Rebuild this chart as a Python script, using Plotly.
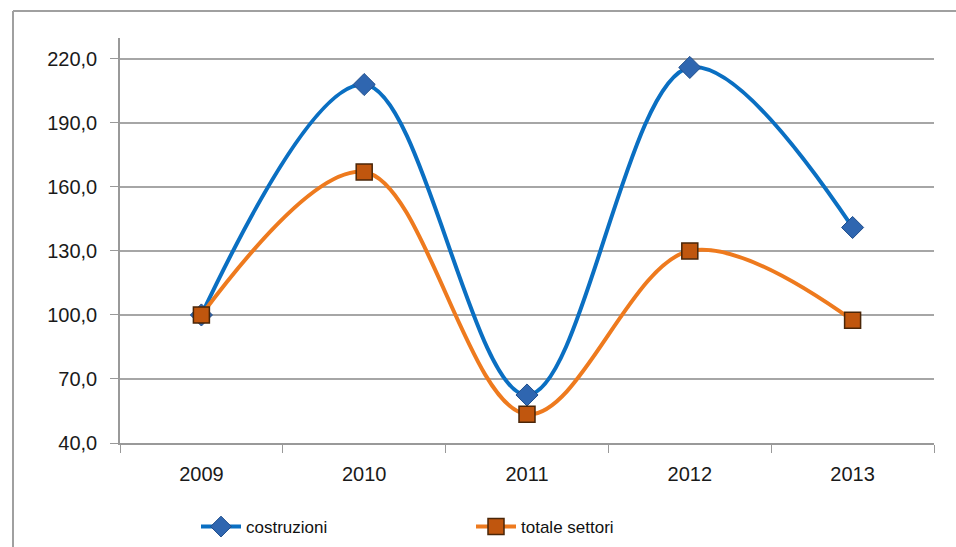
import plotly.graph_objects as go

years = ["2009", "2010", "2011", "2012", "2013"]
costruzioni = [100.0, 208.0, 62.5, 216.0, 141.0]
totale_settori = [100.0, 167.0, 53.5, 130.0, 97.5]
y_ticks = [40, 70, 100, 130, 160, 190, 220]
y_tick_labels = ["40,0", "70,0", "100,0", "130,0", "160,0", "190,0", "220,0"]

L, R, T, B = 120, 22, 38, 104
W, H = 956, 547
PW, PH = W - L - R, H - T - B

fig = go.Figure()
fig.add_trace(go.Scatter(
    x=years, y=costruzioni, name="costruzioni", mode="lines+markers",
    line=dict(color="#0A6FC2", width=4, shape="spline", smoothing=1.0),
    marker=dict(symbol="diamond", size=17, color="#2F66B0",
                line=dict(color="#1F4E8C", width=1)),
))
fig.add_trace(go.Scatter(
    x=years, y=totale_settori, name="totale settori", mode="lines+markers",
    line=dict(color="#EE7A1E", width=4, shape="spline", smoothing=1.0),
    marker=dict(symbol="square", size=16, color="#C0560E",
                line=dict(color="#4A2608", width=1.5)),
))

fig.update_layout(
    width=W, height=H,
    margin=dict(l=L, r=R, t=T, b=B, autoexpand=False),
    paper_bgcolor="white", plot_bgcolor="white",
    font=dict(family="Liberation Sans, Arial, sans-serif", size=20, color="#1a1a1a"),
    showlegend=True,
    legend=dict(orientation="h", x=(196 - L) / PW, xanchor="left",
                y=-(527 - (T + PH)) / PH, yanchor="middle",
                entrywidth=220, font=dict(size=17, color="#111"),
                itemwidth=40, bgcolor="rgba(0,0,0,0)"),
    xaxis=dict(
        type="category", range=[-0.5, 4.5], showgrid=False,
        showline=True, linecolor="#999", linewidth=1.5,
        ticks="outside", tickson="boundaries", ticklen=8, tickcolor="#999",
        ticklabelstandoff=12,
        tickfont=dict(size=20, color="#1a1a1a"), zeroline=False,
    ),
    yaxis=dict(
        range=[40, 229.8], tickvals=y_ticks, ticktext=y_tick_labels,
        showgrid=True, gridcolor="#A6A6A6", gridwidth=1.5,
        showline=True, linecolor="#999", linewidth=1.5,
        ticks="outside", ticklen=8, tickcolor="#999",
        ticklabelstandoff=9,
        tickfont=dict(size=20, color="#1a1a1a"), zeroline=False,
    ),
    shapes=[
        dict(type="line", xref="paper", yref="paper",
             x0=(13 - L) / PW, x1=(W + 5 - L) / PW,
             y0=(T + PH - 11) / PH, y1=(T + PH - 11) / PH,
             line=dict(color="#A0A0A0", width=2)),
        dict(type="line", xref="paper", yref="paper",
             x0=(13 - L) / PW, x1=(13 - L) / PW,
             y0=(T + PH - 11) / PH, y1=(T + PH - H - 10) / PH,
             line=dict(color="#A0A0A0", width=2)),
    ],
)

fig.write_html("out.html", config={"displayModeBar": False},
               post_script="document.body.style.margin='0';document.body.style.overflow='hidden';")
